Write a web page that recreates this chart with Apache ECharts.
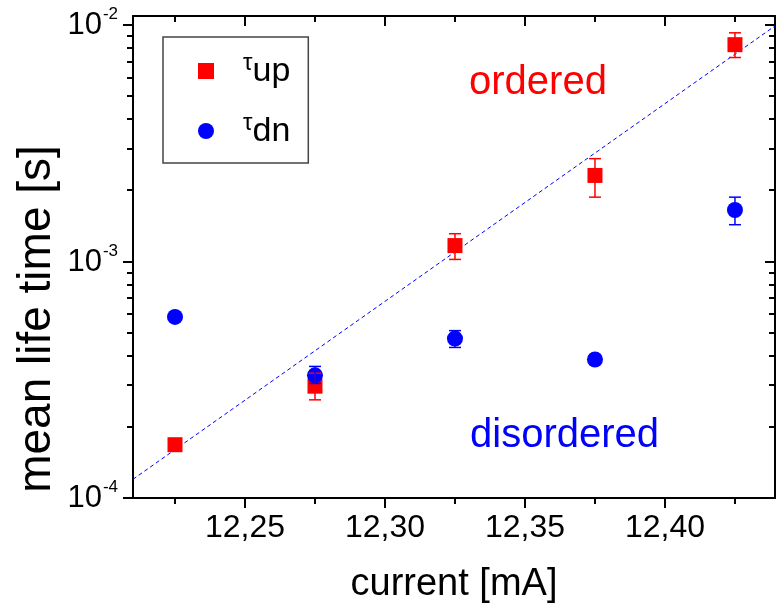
<!DOCTYPE html>
<html>
<head>
<meta charset="utf-8">
<script src="https://cdn.jsdelivr.net/npm/echarts@6/dist/echarts.min.js"></script>
<style>html,body{margin:0;padding:0;background:#fff}#c{width:776px;height:609px}</style>
</head>
<body>
<div id="c"></div>
<script>
// ---- data ----
const currents = [12.225, 12.275, 12.325, 12.375, 12.425];
const tauUp     = [1.68e-4, 2.97e-4, 1.167e-3, 2.31e-3, 8.25e-3];
const tauUpLow  = [null,    2.60e-4, 1.02e-3,  1.87e-3, 7.28e-3];
const tauUpHigh = [null,    3.37e-4, 1.31e-3,  2.72e-3, 9.26e-3];
const tauDn     = [5.83e-4, 3.30e-4, 4.72e-4,  3.85e-4, 1.65e-3];
const tauDnLow  = [null,    3.05e-4, 4.33e-4,  null,    1.43e-3];
const tauDnHigh = [null,    3.60e-4, 5.10e-4,  null,    1.87e-3];
const fitX = [12.21, 12.4393];
const fitY = [1.2e-4, 9.9e-3];
const xMajorTicks = [12.25, 12.30, 12.35, 12.40];
const xMinorTicks = [12.225, 12.275, 12.325, 12.375, 12.425];
const yMajorTicks = [1e-4, 1e-3, 1e-2];
const yMinorTicks = [2e-4,3e-4,4e-4,5e-4,6e-4,7e-4,8e-4,9e-4,2e-3,3e-3,4e-3,5e-3,6e-3,7e-3,8e-3,9e-3];
const xRange = [12.21, 12.4393];
const yRange = [1e-4, 0.010906];
const seriesNames = ['τup', 'τdn'];
const xTitle = 'current [mA]';
const yTitle = 'mean life time [s]';
const annotations = ['ordered', 'disordered'];

const FONT = 'Liberation Sans, Arial, sans-serif';
const RED = '#ff0000', BLUE = '#0000ff';

function pts(xs, ys){ return xs.map((x,i)=>[x, ys[i]]); }
function errs(xs, lo, hi){ const r=[]; xs.forEach((x,i)=>{ if(lo[i]!=null) r.push([x, lo[i], hi[i]]); }); return r; }

function errRender(color){
  return function(params, api){
    const x = api.value(0);
    const p1 = api.coord([x, api.value(2)]);
    const p2 = api.coord([x, api.value(1)]);
    const w = 6;
    const st = {stroke: color, lineWidth: 1.5, fill: null};
    return {type:'group', children:[
      {type:'line', shape:{x1:p1[0], y1:p1[1], x2:p2[0], y2:p2[1]}, style: st},
      {type:'line', shape:{x1:p1[0]-w, y1:p1[1], x2:p1[0]+w, y2:p1[1]}, style: st},
      {type:'line', shape:{x1:p2[0]-w, y1:p2[1], x2:p2[0]+w, y2:p2[1]}, style: st}
    ]};
  };
}

function xAx(opts){
  return Object.assign({
    type:'value', min:xRange[0], max:xRange[1], splitLine:{show:false},
    axisLine:{show:false}, axisLabel:{show:false}, axisTick:{show:false}
  }, opts);
}
function yAx(opts){
  return Object.assign({
    type:'log', logBase:10, min:yRange[0], max:yRange[1], splitLine:{show:false},
    axisLine:{show:false}, axisLabel:{show:false}, axisTick:{show:false}
  }, opts);
}
const tickStyle = {color:'#000', width:2};

const chart = echarts.init(document.getElementById('c'), null, {renderer:'canvas'});
chart.setOption({
  animation:false,
  backgroundColor:'#fff',
  textStyle:{fontFamily:FONT},
  grid:{left:133, right:1, top:16, bottom:107, containLabel:false},
  xAxis:[
    xAx({position:'bottom',
      axisLine:{show:true, onZero:false, lineStyle:{color:'#000', width:2}},
      axisTick:{show:true, inside:false, length:10, customValues:xMajorTicks, lineStyle:tickStyle},
      axisLabel:{show:true, customValues:xMajorTicks, margin:14, color:'#000', fontSize:32, fontFamily:FONT,
        formatter:v=>v.toFixed(2).replace('.', ',')},
      name:xTitle, nameLocation:'middle', nameGap:68,
      nameTextStyle:{fontSize:38, color:'#000', fontFamily:FONT}}),
    xAx({position:'bottom', axisTick:{show:true, inside:false, length:6, customValues:xMinorTicks, lineStyle:tickStyle}}),
    xAx({position:'top', axisLine:{show:true, onZero:false, lineStyle:{color:'#000', width:2}},
      axisTick:{show:true, inside:true, length:10, customValues:xMajorTicks, lineStyle:tickStyle}}),
    xAx({position:'top', axisTick:{show:true, inside:true, length:6, customValues:xMinorTicks, lineStyle:tickStyle}})
  ],
  yAxis:[
    yAx({position:'left',
      axisLine:{show:true, onZero:false, lineStyle:{color:'#000', width:2}},
      axisTick:{show:true, inside:false, length:10, customValues:yMajorTicks, lineStyle:tickStyle},
      axisLabel:{show:true, customValues:yMajorTicks, margin:15, color:'#000',
        formatter:v=>'{b|10}{s|' + Math.round(Math.log10(v)) + '}',
        rich:{
          b:{fontSize:31, lineHeight:32, verticalAlign:'bottom', color:'#000', fontFamily:FONT},
          s:{fontSize:17, lineHeight:17, verticalAlign:'bottom', padding:[0,0,18,1], color:'#000', fontFamily:FONT}
        }}}),
    yAx({position:'left', axisTick:{show:true, inside:false, length:6, customValues:yMinorTicks, lineStyle:tickStyle}}),
    yAx({position:'right', axisLine:{show:true, onZero:false, lineStyle:{color:'#000', width:2}},
      axisTick:{show:true, inside:true, length:10, customValues:yMajorTicks, lineStyle:tickStyle}}),
    yAx({position:'right', axisTick:{show:true, inside:true, length:6, customValues:yMinorTicks, lineStyle:tickStyle}})
  ],
  legend:{
    orient:'vertical', left:163, top:37,
    data:[{name:seriesNames[0], icon:'rect'}, {name:seriesNames[1], icon:'circle'}],
    itemWidth:16, itemHeight:16, itemGap:22,
    padding:[14,18,14,35],
    backgroundColor:'#fff', borderColor:'#444', borderWidth:1.5, borderRadius:0,
    formatter: n => '{t|τ}{u|' + n.slice(1) + '}',
    textStyle:{
      rich:{
        t:{fontSize:24, lineHeight:24, verticalAlign:'bottom', padding:[0,0,14,24], color:'#000', fontFamily:FONT},
        u:{fontSize:34, lineHeight:36, verticalAlign:'bottom', color:'#000', fontFamily:FONT}
      }
    }
  },
  graphic:[
    {type:'text', left:469, top:63, z:10, style:{text:annotations[0], fill:RED, fontSize:40, fontFamily:FONT}},
    {type:'text', left:470, top:416, z:10, style:{text:annotations[1], fill:BLUE, fontSize:40, fontFamily:FONT}},
    {type:'text', x:37, y:319, rotation:Math.PI/2, z:10,
      style:{text:yTitle, fill:'#000', fontSize:46, fontFamily:FONT, align:'center', verticalAlign:'middle'}}
  ],
  series:[
    {type:'line', name:'fit', data:pts(fitX, fitY), showSymbol:false, symbol:'none', silent:true,
      lineStyle:{color:BLUE, width:1, type:[4,3]}, z:1},
    {type:'scatter', name:seriesNames[0], data:pts(currents, tauUp), symbol:'rect', symbolSize:15,
      itemStyle:{color:RED, opacity:1}, z:2},
    {type:'scatter', name:seriesNames[1], data:pts(currents, tauDn), symbol:'circle', symbolSize:16,
      itemStyle:{color:BLUE, opacity:1}, z:3},
    {type:'custom', name:'errUp', data:errs(currents, tauUpLow, tauUpHigh), renderItem:errRender(RED),
      encode:{x:0, y:[1,2]}, z:4, silent:true},
    {type:'custom', name:'errDn', data:errs(currents, tauDnLow, tauDnHigh), renderItem:errRender(BLUE),
      encode:{x:0, y:[1,2]}, z:5, silent:true}
  ]
});
</script>
</body>
</html>
